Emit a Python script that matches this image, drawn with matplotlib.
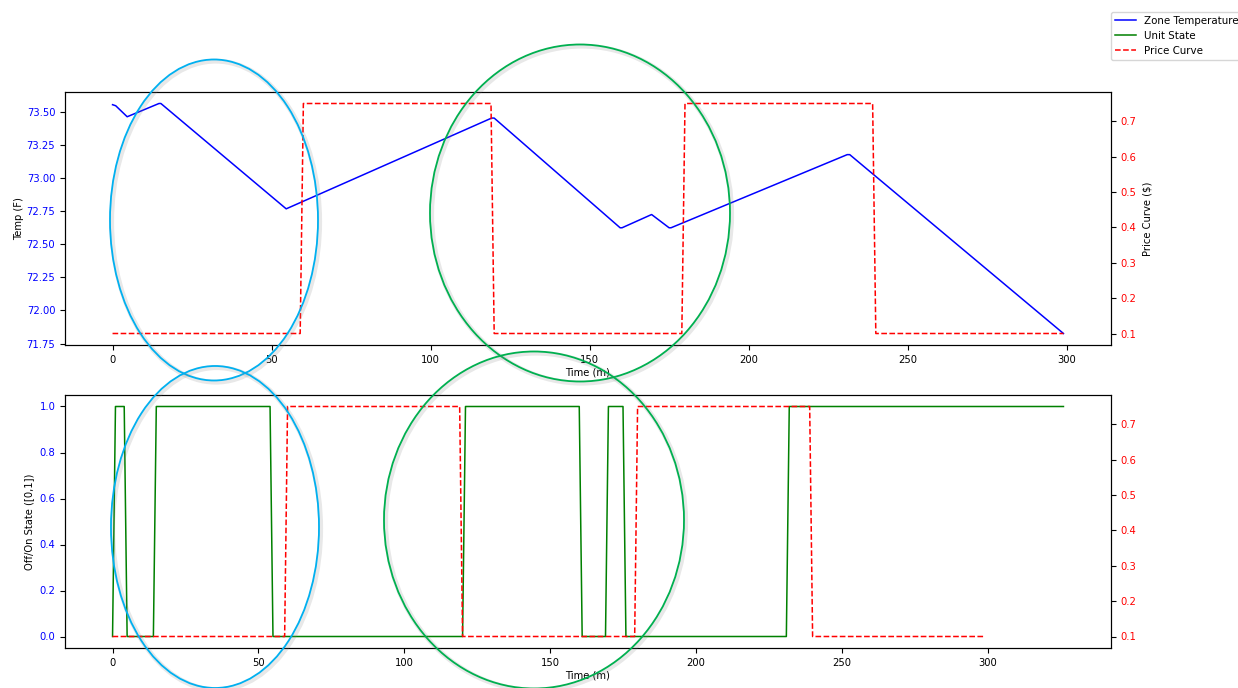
# zone temperature / unit state vs price curve
import numpy as np
import matplotlib.pyplot as plt
from matplotlib.patches import Ellipse
import matplotlib.patheffects as pe

plt.rcParams['font.size'] = 7.2

# zone temperature (F), vertices of the simulated trace
temp_t = [0, 1, 4.6, 14.6, 15.2, 54.6, 119.2, 120.0, 159.6, 160.2, 169.5, 175.0, 175.6, 231.0, 231.8, 299]
temp_v = [73.553, 73.545, 73.462, 73.562, 73.562, 72.767, 73.452, 73.452, 72.624, 72.624, 72.724, 72.624, 72.624, 73.176, 73.176, 71.826]

# price curve ($)
price_t = [0, 59, 60, 119, 120, 179, 180, 239, 240, 299]
price_v = [0.1, 0.1, 0.75, 0.75, 0.1, 0.1, 0.75, 0.75, 0.1, 0.1]

# unit on/off state
state_t = [0, 1, 4, 5, 14, 15, 54, 55, 120, 121, 160, 161, 169, 170, 175, 176, 231, 232, 326]
state_v = [0, 1, 1, 0, 0, 1, 1, 0, 0, 1, 1, 0, 0, 1, 1, 0, 0, 1, 1]

W, H = 1238, 688
fig = plt.figure(figsize=(W / 100, H / 100), dpi=100)

def rect(l, t, r, b):
    return [l / W, 1 - b / H, (r - l) / W, (b - t) / H]

# top panel: temperature + price
ax1 = fig.add_axes(rect(65, 92, 1111, 345))
l_temp, = ax1.plot(temp_t, temp_v, 'b-', lw=1.1, label='Zone Temperature')
ax1.set_ylabel('Temp (F)', labelpad=2)
ax1.set_xlabel('Time (m)', labelpad=2)
ax1.tick_params(axis='y', labelcolor='b')
ax1.set_xticks([0, 50, 100, 150, 200, 250, 300])
ax1.set_yticks([71.75, 72.0, 72.25, 72.5, 72.75, 73.0, 73.25, 73.5])
ax1.yaxis.set_major_formatter(plt.FormatStrFormatter('%.2f'))

ax1b = ax1.twinx()
l_price, = ax1b.plot(price_t, price_v, 'r--', lw=1.1, label='Price Curve')
ax1b.set_ylabel(r'Price Curve (\$)')
ax1b.tick_params(axis='y', labelcolor='r')

# bottom panel: unit state + price
ax2 = fig.add_axes(rect(65, 395, 1111, 648))
l_state, = ax2.plot(state_t, state_v, 'g-', lw=1.1, label='Unit State')
ax2.set_ylabel('Off/On State ([0,1])')
ax2.set_xlabel('Time (m)', labelpad=2)
ax2.tick_params(axis='y', labelcolor='b')
ax2.set_xticks([0, 50, 100, 150, 200, 250, 300])

ax2b = ax2.twinx()
ax2b.plot(price_t, price_v, 'r--', lw=1.1)
ax2b.tick_params(axis='y', labelcolor='r')

fig.legend(handles=[l_temp, l_state, l_price], loc='upper left',
           bbox_to_anchor=(1111 / W, 1 - 11.5 / H), borderaxespad=0, fontsize=7.4)

# hand drawn highlight ellipses
shadow = [pe.SimpleLineShadow(offset=(1.2, -1.2), shadow_color='gray', alpha=0.18, linewidth=3.5), pe.Normal()]
for cx, cy, w, h, c in [(214, 220, 208, 321, '#00b0f0'), (215, 527, 208, 322, '#00b0f0'),
                        (580, 213, 300, 337, '#00b050'), (534, 520, 300, 337, '#00b050')]:
    e = Ellipse((cx / W, 1 - cy / H), w / W, h / H, transform=fig.transFigure,
                fill=False, edgecolor=c, lw=1.3, path_effects=shadow)
    fig.add_artist(e)

fig.savefig('out.png', dpi=100)
